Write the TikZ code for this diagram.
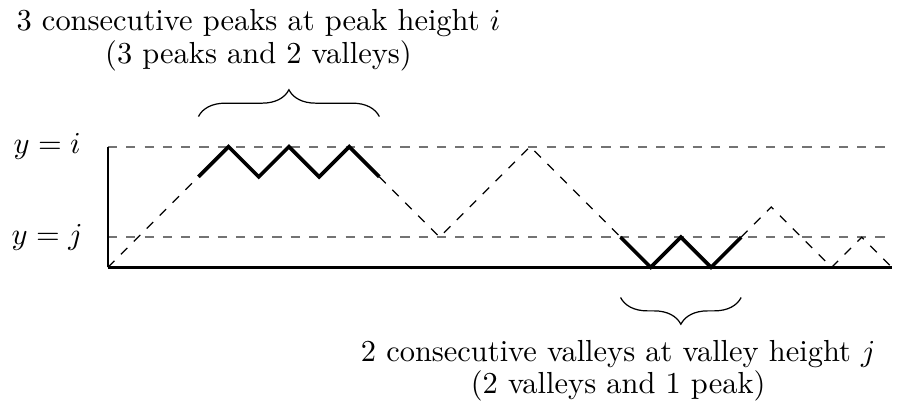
\documentclass[tikz,border=0pt]{standalone}
\usetikzlibrary{decorations.pathreplacing}
\begin{document}
\begin{tikzpicture}[x=9.9pt,y=9.9pt,
  guide/.style={dashed,black!55,line width=0.55pt},
  walk/.style={dashed,thin},
  run/.style={very thick},
  axisline/.style={semithick},
  baseline/.style={thick},
  bracestyle/.style={decorate,decoration={brace,amplitude=8.8pt}},
  txt/.style={anchor=base,inner sep=0pt}]
\useasboundingbox (-3.582,-4.501) rectangle (26.169,8.866);
% lattice path vertices
\foreach \h [count=\n from 0] in {0,1,2,3,4,3,4,3,4,3,2,1,2,3,4,3,2,1,0,1,0,1,2,1,0,1,0}
  \coordinate (p\n) at (\n,\h);
\coordinate (a0) at (0,4); \coordinate (a1) at (26,4);
\coordinate (b0) at (0,1); \coordinate (b1) at (26,1);
\coordinate (o) at (0,0);  \coordinate (e) at (26,0);
\coordinate (t0) at (3,5); \coordinate (t1) at (9,5);
\coordinate (u0) at (21,-1); \coordinate (u1) at (17,-1);
% guides
\draw[guide] (a0) -- (a1);
\draw[guide] (b0) -- (b1);
\draw[axisline] (o) -- (a0);
\draw[baseline] (o) -- (e);
% path
\draw[walk] (p0) -- (p1) -- (p2) -- (p3);
\draw[walk] (p9) -- (p10) -- (p11) -- (p12) -- (p13) -- (p14) -- (p15) -- (p16) -- (p17);
\draw[walk] (p21) -- (p22) -- (p23) -- (p24) -- (p25) -- (p26);
\draw[run] (p3) -- (p4) -- (p5) -- (p6) -- (p7) -- (p8) -- (p9);
\draw[run] (p17) -- (p18) -- (p19) -- (p20) -- (p21);
% braces
\draw[bracestyle] (t0) -- (t1);
\draw[bracestyle] (u0) -- (u1);
% labels
\node (li) at (-2.02,4) {$y=i$};
\node (lj) at (-2.02,1) {$y=j$};
\node[txt] (top1) at (4.99,7.87) {3 consecutive peaks at peak height $i$};
\node[txt] (top2) at (4.99,6.75) {(3 peaks and 2 valleys)};
\node[txt] (bot1) at (16.92,-3.11) {2 consecutive valleys at valley height $j$};
\node[txt] (bot2) at (16.92,-4.17) {(2 valleys and 1 peak)};
\end{tikzpicture}
\end{document}
